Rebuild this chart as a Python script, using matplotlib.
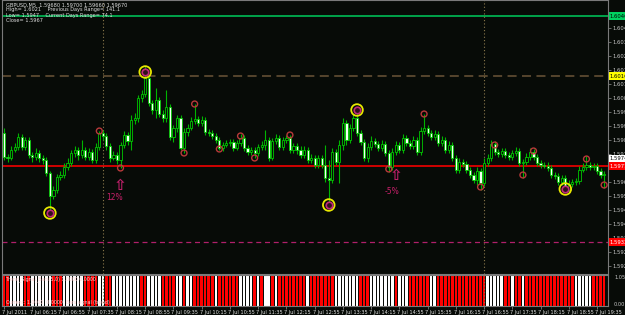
import numpy as np
import matplotlib
matplotlib.use("Agg")
import matplotlib.pyplot as plt
from matplotlib.transforms import blended_transform_factory

BG = "#070b07"

# GBPUSD M5, 7 Jul 2011 (open of each bar = close of the bar before)
first_open = 1.59875
closes = [1.59755, 1.59750, 1.59790, 1.59805, 1.59855, 1.59805, 1.59840, 1.59765, 1.59755, 1.59775,
          1.59750, 1.59740, 1.59675, 1.59560, 1.59590, 1.59655, 1.59665, 1.59705, 1.59725, 1.59775,
          1.59790, 1.59765, 1.59790, 1.59755, 1.59780, 1.59740, 1.59805, 1.59875, 1.59860, 1.59810,
          1.59750, 1.59765, 1.59740, 1.59815, 1.59865, 1.59835, 1.59940, 1.59950, 1.60050, 1.60070,
          1.60150, 1.60025, 1.59990, 1.60040, 1.59970, 1.59950, 1.60005, 1.59855, 1.59900, 1.59950,
          1.59800, 1.59880, 1.59900, 1.59935, 1.59945, 1.59925, 1.59940, 1.59880, 1.59875, 1.59860,
          1.59840, 1.59800, 1.59815, 1.59825, 1.59830, 1.59800, 1.59825, 1.59850, 1.59800, 1.59780,
          1.59790, 1.59775, 1.59805, 1.59815, 1.59840, 1.59750, 1.59835, 1.59850, 1.59805, 1.59840,
          1.59850, 1.59790, 1.59810, 1.59790, 1.59765, 1.59790, 1.59740, 1.59750, 1.59715, 1.59750,
          1.59715, 1.59650, 1.59640, 1.59780, 1.59730, 1.59815, 1.59925, 1.59840, 1.59900, 1.59950,
          1.59875, 1.59830, 1.59750, 1.59805, 1.59835, 1.59820, 1.59800, 1.59820, 1.59775, 1.59705,
          1.59780, 1.59815, 1.59790, 1.59850, 1.59825, 1.59810, 1.59840, 1.59780, 1.59885, 1.59900,
          1.59875, 1.59855, 1.59870, 1.59825, 1.59840, 1.59790, 1.59815, 1.59750, 1.59690, 1.59730,
          1.59720, 1.59690, 1.59665, 1.59640, 1.59685, 1.59625, 1.59725, 1.59750, 1.59820, 1.59780,
          1.59770, 1.59785, 1.59765, 1.59755, 1.59775, 1.59785, 1.59725, 1.59730, 1.59755, 1.59780,
          1.59755, 1.59725, 1.59715, 1.59710, 1.59700, 1.59665, 1.59660, 1.59630, 1.59650, 1.59590,
          1.59620, 1.59630, 1.59635, 1.59690, 1.59705, 1.59715, 1.59705, 1.59710, 1.59685, 1.59665,
          1.59670]
highs = [1.59900, 1.59770, 1.59810, 1.59825, 1.59875, 1.59870, 1.59855, 1.59855, 1.59780, 1.59800,
         1.59790, 1.59765, 1.59755, 1.59685, 1.59610, 1.59670, 1.59685, 1.59725, 1.59750, 1.59790,
         1.59810, 1.59805, 1.59840, 1.59805, 1.59800, 1.59795, 1.59825, 1.59885, 1.59890, 1.59875,
         1.59825, 1.59785, 1.59780, 1.59830, 1.59885, 1.59880, 1.59965, 1.59975, 1.60065, 1.60090,
         1.60210, 1.60160, 1.60040, 1.60100, 1.60055, 1.59990, 1.60090, 1.60020, 1.59915, 1.59965,
         1.59965, 1.59900, 1.59920, 1.59955, 1.60020, 1.59960, 1.59960, 1.59955, 1.59895, 1.59890,
         1.59875, 1.59855, 1.59830, 1.59840, 1.59845, 1.59845, 1.59840, 1.59870, 1.59865, 1.59815,
         1.59805, 1.59805, 1.59820, 1.59835, 1.59890, 1.59855, 1.59850, 1.59870, 1.59865, 1.59855,
         1.59865, 1.59865, 1.59825, 1.59825, 1.59810, 1.59810, 1.59805, 1.59770, 1.59765, 1.59765,
         1.59765, 1.59815, 1.59740, 1.59800, 1.59795, 1.59840, 1.59950, 1.59940, 1.59920, 1.59970,
         1.60000, 1.59890, 1.59845, 1.59825, 1.59860, 1.59850, 1.59835, 1.59840, 1.59835, 1.59790,
         1.59800, 1.59835, 1.59830, 1.59870, 1.59865, 1.59840, 1.59860, 1.59855, 1.59905, 1.59970,
         1.59915, 1.59890, 1.59890, 1.59885, 1.59860, 1.59855, 1.59835, 1.59830, 1.59765, 1.59750,
         1.59745, 1.59735, 1.59705, 1.59680, 1.59705, 1.59700, 1.59750, 1.59770, 1.59840, 1.59835,
         1.59795, 1.59800, 1.59800, 1.59780, 1.59790, 1.59805, 1.59800, 1.59745, 1.59775, 1.59800,
         1.59795, 1.59770, 1.59740, 1.59730, 1.59730, 1.59715, 1.59680, 1.59675, 1.59665, 1.59665,
         1.59640, 1.59645, 1.59650, 1.59710, 1.59725, 1.59760, 1.59730, 1.59725, 1.59725, 1.59700,
         1.59685]
lows = [1.59740, 1.59730, 1.59740, 1.59780, 1.59790, 1.59790, 1.59790, 1.59750, 1.59730, 1.59740,
        1.59730, 1.59720, 1.59660, 1.59475, 1.59545, 1.59575, 1.59640, 1.59650, 1.59690, 1.59710,
        1.59755, 1.59740, 1.59750, 1.59740, 1.59740, 1.59725, 1.59725, 1.59790, 1.59840, 1.59790,
        1.59730, 1.59740, 1.59720, 1.59700, 1.59800, 1.59815, 1.59790, 1.59920, 1.59930, 1.60030,
        1.60055, 1.60010, 1.59970, 1.59950, 1.59955, 1.59930, 1.59930, 1.59840, 1.59830, 1.59880,
        1.59790, 1.59775, 1.59860, 1.59890, 1.59920, 1.59910, 1.59910, 1.59865, 1.59860, 1.59845,
        1.59825, 1.59790, 1.59785, 1.59805, 1.59810, 1.59785, 1.59790, 1.59810, 1.59785, 1.59765,
        1.59765, 1.59750, 1.59760, 1.59790, 1.59790, 1.59735, 1.59740, 1.59820, 1.59790, 1.59790,
        1.59825, 1.59775, 1.59775, 1.59770, 1.59750, 1.59750, 1.59725, 1.59725, 1.59700, 1.59700,
        1.59700, 1.59630, 1.59515, 1.59625, 1.59715, 1.59625, 1.59790, 1.59815, 1.59825, 1.59885,
        1.59860, 1.59815, 1.59735, 1.59730, 1.59790, 1.59805, 1.59785, 1.59785, 1.59760, 1.59680,
        1.59690, 1.59765, 1.59775, 1.59775, 1.59810, 1.59795, 1.59795, 1.59765, 1.59765, 1.59870,
        1.59860, 1.59840, 1.59840, 1.59810, 1.59810, 1.59775, 1.59775, 1.59735, 1.59675, 1.59675,
        1.59705, 1.59675, 1.59650, 1.59625, 1.59615, 1.59590, 1.59610, 1.59710, 1.59735, 1.59765,
        1.59755, 1.59755, 1.59750, 1.59740, 1.59740, 1.59760, 1.59710, 1.59650, 1.59715, 1.59740,
        1.59740, 1.59710, 1.59700, 1.59700, 1.59685, 1.59650, 1.59645, 1.59615, 1.59615, 1.59580,
        1.59575, 1.59605, 1.59615, 1.59620, 1.59680, 1.59690, 1.59690, 1.59690, 1.59670, 1.59650,
        1.59600]
opens = [first_open] + closes[:-1]

# fractal circles
small_idx = [27, 33, 51, 54, 61, 67, 71, 81, 109, 119, 135, 139, 147, 150, 165, 170]
small_price = [1.59885, 1.59700, 1.59775, 1.60020, 1.59795, 1.59860, 1.59750, 1.59865,
               1.59695, 1.59970, 1.59605, 1.59815, 1.59665, 1.59785, 1.59745, 1.59615]
big_idx = [13, 40, 92, 100, 159]
big_price = [1.59475, 1.60180, 1.59515, 1.59990, 1.59595]

# arrows with percentages
arrow_idx = [33, 111]
arrow_price = [1.59615, 1.59665]
pct_idx = [31.2, 110]
pct_price = [1.59555, 1.59580]
pct_text = ["12%", "-5%"]

# horizontal levels
level_green = 1.60460
level_yellow = 1.60160
level_red = 1.59710
level_magenta = 1.59330
bid_price = 1.59745

price_ticks = [1.6047, 1.6040, 1.6033, 1.6026, 1.6019, 1.6012, 1.6005, 1.5998, 1.5991,
               1.5984, 1.5977, 1.5970, 1.5963, 1.5956, 1.5949, 1.5942, 1.5935, 1.5928, 1.5921]

session_idx = [28, 136]

time_idx = list(range(0, 169, 8))
time_labels = ["7 Jul 2011", "7 Jul 06:15", "7 Jul 06:55", "7 Jul 07:35", "7 Jul 08:15",
               "7 Jul 08:55", "7 Jul 09:35", "7 Jul 10:15", "7 Jul 10:55", "7 Jul 11:35",
               "7 Jul 12:15", "7 Jul 12:55", "7 Jul 13:35", "7 Jul 14:15", "7 Jul 14:55",
               "7 Jul 15:35", "7 Jul 16:15", "7 Jul 16:55", "7 Jul 17:35", "7 Jul 18:15",
               "7 Jul 18:55", "7 Jul 19:35"]

# signal bars in the lower window: r = red, w = white
signal = ("rr" + "wwww" + "rr" + "wwwwww" + "rrr" + "wwwwww" + "rrrr" + "ww" + "rr"
          + "wwwwwwww" + "rr" + "wwww" + "rrrr" + "wwrwwrr" + "rrrrwrrrrrr" + "wwww"
          + "rwrwwrwr" + "rrrrrrrwrrrrrrr" + "wwwwwww" + "rrr" + "wwwwwww" + "r" + "www"
          + "rrrrrr" + "ww" + "rrrrrrrrrrrrrr" + "wwwww" + "rrwrrwrr" + "rrrrrrrrrrrr"
          + "wwwww" + "rrrr")

header = ["GBPUSD,M5  1.59680 1.59700 1.59660 1.59670",
          "High= 1.6021    Previous Days Range= 141.1",
          "Low= 1.5947    Current Days Range= 74.1",
          "Close= 1.5967"]

fig = plt.figure(figsize=(6.25, 3.15), dpi=100, facecolor=BG)
ax = fig.add_axes([2/625, 41/315, 606/625, 274/315], facecolor=BG)
ax2 = fig.add_axes([2/625, 9/315, 606/625, 31/315], facecolor=BG)

n = len(closes)
x = np.arange(n)
o = np.array(opens)
c = np.array(closes)
h = np.array(highs)
l = np.array(lows)

# levels first so candles sit on top
ax.axhline(level_green, color="#00b050", lw=1.3, zorder=1)
ax.axhline(level_yellow, color="#5c4a30", lw=1.3, ls=(0, (5, 3)), zorder=1)
ax.axhline(level_red, color="#e00000", lw=1.3, zorder=1)
ax.axhline(level_magenta, color="#b0206a", lw=0.9, ls=(0, (4, 3)), zorder=1)
for s in session_idx:
    ax.axvline(s, color="#8c7a4c", lw=0.8, ls=(0, (1, 2)), zorder=1)
    ax2.axvline(s, color="#8c7a4c", lw=0.8, ls=(0, (1, 2)), zorder=3)

ax.vlines(x, l, h, color="#00b400", lw=0.8, zorder=2)
up = c >= o
ax.bar(x[up], np.maximum((c - o)[up], 0.00002), bottom=o[up], width=0.62,
       color=BG, edgecolor="#00c800", lw=0.6, zorder=3)
ax.bar(x[~up], (o - c)[~up], bottom=c[~up], width=0.62,
       color="#f4fff4", edgecolor="#00c800", lw=0.6, zorder=3)

ax.scatter(small_idx, small_price, s=18, facecolors="none", edgecolors="#b83a3a",
           lw=1.0, zorder=4)
ax.scatter(big_idx, big_price, s=70, facecolors="none", edgecolors="#e8e800",
           lw=1.3, zorder=4)
ax.scatter(big_idx, big_price, s=22, facecolors="#30101a", edgecolors="#c02a78",
           lw=1.2, zorder=5)

for i, p in zip(arrow_idx, arrow_price):
    ax.text(i, p, "\u21e7", color="#c0206a", fontsize=11, ha="center", va="center",
            zorder=5, fontweight="bold")
for i, p, t in zip(pct_idx, pct_price, pct_text):
    ax.text(i, p, t, color="#c8206a", fontsize=5.5, ha="center", va="center", zorder=5)

ax.set_xlim(-0.57, 171.1)
ax.set_ylim(1.6054 - 274 * 0.00005, 1.6054)
ax.yaxis.tick_right()
ax.set_yticks(price_ticks)
ax.set_yticklabels([f"{p:.5f}" for p in price_ticks])
ax.tick_params(axis="y", colors="#909090", labelcolor="#c8c8c8", labelsize=3.8,
               length=2, width=0.5, pad=1.5)
ax.set_xticks([])
for sp in ax.spines.values():
    sp.set_color("#7a7a7a")
    sp.set_linewidth(0.8)

tr = blended_transform_factory(ax.transAxes, ax.transData)
boxes = [(level_green, "#00d060", "black"), (level_yellow, "#ffff00", "black"),
         (bid_price, "#ffffff", "black"), (level_red, "#ff0000", "white"),
         (level_magenta, "#ff0000", "white")]
for p, fc, tc in boxes:
    ax.text(1.003, p, f"{p:.5f}", transform=tr, fontsize=3.8, color=tc, va="center",
            ha="left", zorder=6, clip_on=False,
            bbox=dict(boxstyle="square,pad=0.2", fc=fc, ec="none"))

for k, line in enumerate(header):
    fig.text(6/625, 1 - (5 + 5 * k)/315, line, fontsize=3.6, color="#e0e0e0",
             va="center", ha="left")

# lower window
cols = ["#ff0000" if s == "r" else "#ffffff" for s in signal[:n]]
ax2.bar(x[:len(cols)], 1, width=0.72, color=cols, zorder=2)
ax2.set_xlim(-0.57, 171.1)
ax2.set_ylim(0, 1.0)
ax2.set_yticks([])
ax2.set_xticks(time_idx)
ax2.set_xticklabels([])
ax2.tick_params(axis="x", colors="#909090", length=2, width=0.5)
for sp in ax2.spines.values():
    sp.set_color("#7a7a7a")
    sp.set_linewidth(0.8)
tr2 = blended_transform_factory(ax2.transData, ax2.transAxes)
for i, t in zip(time_idx, time_labels):
    ax2.text(i - 0.6, -0.14, t, transform=tr2, fontsize=3.6, color="#e0e0e0",
             ha="left", va="top", clip_on=False)
ax2.text(1.01, 0.92, "1.05", transform=ax2.transAxes, fontsize=3.6, color="#c8c8c8",
         va="center", ha="left")
ax2.text(1.01, 0.06, "0.00", transform=ax2.transAxes, fontsize=3.6, color="#c8c8c8",
         va="center", ha="left")
ax2.text(0.006, 0.86, "Trend_Signal_Bars(5,0) 1.0000 0.0000", transform=ax2.transAxes,
         fontsize=3.4, color="#ffd0d0", va="center", ha="left", zorder=4)
ax2.text(0.006, 0.1, "Current: 1.0000  0.0000  Bars signal (trend)", transform=ax2.transAxes,
         fontsize=3.4, color="#ffd0d0", va="center", ha="left", zorder=4)

fig.savefig("out.png", dpi=100, facecolor=BG)
